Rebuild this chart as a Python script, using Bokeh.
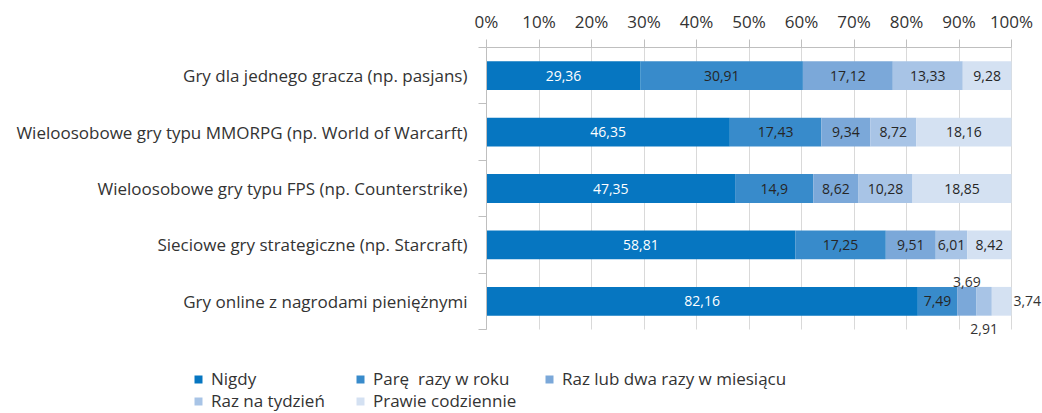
import numpy as np
from bokeh.plotting import figure
from bokeh.models import (Range1d, FixedTicker, ColumnDataSource, LabelSet,
                          Legend, LegendItem, Grid, LinearAxis)
from bokeh.core.properties import value
from bokeh.embed import file_html
from bokeh.resources import INLINE

# ---------------- data ----------------
categories = [
    "Gry dla jednego gracza (np. pasjans)",
    "Wieloosobowe gry typu MMORPG (np. World of Warcarft)",
    "Wieloosobowe gry typu FPS (np. Counterstrike)",
    "Sieciowe gry strategiczne (np. Starcraft)",
    "Gry online z nagrodami pieniężnymi",
]
series_names = ["Nigdy", "Parę  razy w roku", "Raz lub dwa razy w miesiącu",
                "Raz na tydzień", "Prawie codziennie"]
nigdy = [29.36, 46.35, 47.35, 58.81, 82.16]
pare_razy_w_roku = [30.91, 17.43, 14.9, 17.25, 7.49]
raz_lub_dwa_w_miesiacu = [17.12, 9.34, 8.62, 9.51, 3.69]
raz_na_tydzien = [13.33, 8.72, 10.28, 6.01, 2.91]
prawie_codziennie = [9.28, 18.16, 18.85, 8.42, 3.74]
x_ticks = [0, 10, 20, 30, 40, 50, 60, 70, 80, 90, 100]
x_tick_labels = ["0%", "10%", "20%", "30%", "40%", "50%", "60%", "70%", "80%", "90%", "100%"]

# ---------------- style ----------------
colors = ["#0676C1", "#388BCB", "#7BA8D9", "#A8C4E6", "#D4E1F2"]
label_colors = ["#FFFFFF", "#262626", "#262626", "#262626", "#262626"]
FONT = "Open Sans"
TXT = "#333333"
GRID = "#D9D9D9"
AXIS = "#BFBFBF"
# labels placed outside of small segments: (row, series) -> placement
outside = {(4, 2): "above", (4, 3): "below", (4, 4): "right"}

series = [nigdy, pare_razy_w_roku, raz_lub_dwa_w_miesiacu, raz_na_tydzien, prawie_codziennie]
n = len(categories)
ypos = np.arange(n) + 0.5

# The whole canvas is the frame; axes are drawn at fixed data locations.
W, H = 1042, 413
X0, X100, YTOP, YBOT = 486, 1011, 47, 329       # plot-area corners in pixels
ppx = (X100 - X0) / 100.0
ppy = (YBOT - YTOP) / n
x_range = Range1d(-X0 / ppx, 100 + (W - X100) / ppx)
y_range = Range1d(n + (H - YBOT) / ppy, -YTOP / ppy)   # reversed: first category on top

p = figure(width=W, height=H, output_backend="svg", toolbar_location=None,
           x_range=x_range, y_range=y_range,
           x_axis_location=None, y_axis_location=None,
           min_border=0, min_border_left=0, min_border_right=0,
           min_border_top=0, min_border_bottom=0)
# drop the default grids (they belong to axes that are not shown)
p.center = [r for r in p.center if not isinstance(r, Grid)]
p.outline_line_color = None
p.background_fill_color = "white"
p.border_fill_color = "white"

# top axis at the top of the plot area
xa = LinearAxis(fixed_location=0, bounds=(0, 100),
                ticker=FixedTicker(ticks=x_ticks, minor_ticks=[]))
xa.major_label_overrides = {t: l for t, l in zip(x_ticks, x_tick_labels)}
xa.major_tick_out = 8
xa.major_tick_in = 0
xa.minor_tick_out = 0
xa.minor_tick_in = 0
xa.axis_line_color = AXIS
xa.major_tick_line_color = AXIS
xa.major_label_standoff = 7
xa.major_label_text_font = FONT
xa.major_label_text_font_size = "17px"
xa.major_label_text_color = TXT
p.add_layout(xa, "above")

# left axis: labels at band centres, ticks at band boundaries
ya = LinearAxis(fixed_location=0, bounds=(0, n),
                ticker=FixedTicker(ticks=list(ypos), minor_ticks=list(np.arange(n + 1))))
ya.major_label_overrides = {float(y): c for y, c in zip(ypos, categories)}
ya.major_tick_out = 0
ya.major_tick_in = 0
ya.minor_tick_out = 8
ya.minor_tick_in = 0
ya.minor_tick_line_color = AXIS
ya.axis_line_color = AXIS
ya.major_label_standoff = 11
ya.major_label_text_font = FONT
ya.major_label_text_font_size = "17px"
ya.major_label_text_color = TXT
p.add_layout(ya, "left")

# vertical gridlines inside the plot area only
if "cross_bounds" in Grid.properties():
    p.add_layout(Grid(dimension=0, ticker=FixedTicker(ticks=x_ticks),
                      grid_line_color=GRID, cross_bounds=(0, n)))
else:
    p.segment(x0=x_ticks, x1=x_ticks, y0=[0] * len(x_ticks), y1=[n] * len(x_ticks),
              line_color=GRID, level="underlay")

def fmt(v):
    return f"{v:g}".replace(".", ",")

left = np.zeros(n)
renderers = []
for si, (vals, name) in enumerate(zip(series, series_names)):
    vals = np.array(vals, dtype=float)
    right = left + vals
    src = ColumnDataSource(dict(y=ypos, left=left.copy(), right=right.copy()))
    r = p.hbar(y="y", left="left", right="right", height=0.51, source=src,
               fill_color=colors[si], line_color=None)
    renderers.append(r)

    inside = dict(x=[], y=[], t=[])
    above = dict(x=[], y=[], t=[])
    below = dict(x=[], y=[], t=[])
    rgt = dict(x=[], y=[], t=[])
    for ri in range(n):
        place = outside.get((ri, si))
        xc = (left[ri] + right[ri]) / 2
        if place == "above":
            d, xx = above, xc
        elif place == "below":
            d, xx = below, xc
        elif place == "right":
            d, xx = rgt, right[ri]
        else:
            d, xx = inside, xc
        d["x"].append(xx); d["y"].append(ypos[ri]); d["t"].append(fmt(vals[ri]))

    common = dict(text_font=value(FONT), text_font_size="14px", text_baseline="middle",
                  level="overlay")
    p.add_layout(LabelSet(x="x", y="y", text="t", source=ColumnDataSource(inside),
                          text_align="center", text_color=label_colors[si], **common))
    p.add_layout(LabelSet(x="x", y="y", text="t", source=ColumnDataSource(above),
                          text_align="center", text_color=TXT, y_offset=19, **common))
    p.add_layout(LabelSet(x="x", y="y", text="t", source=ColumnDataSource(below),
                          text_align="center", text_color=TXT, y_offset=-28, **common))
    p.add_layout(LabelSet(x="x", y="y", text="t", source=ColumnDataSource(rgt),
                          text_align="left", text_color=TXT, x_offset=2, **common))
    left = right

# legend: 3 items on the first row, 2 on the second (positions in screen px)
legend_pos = [(193, 23), (355, 23), (544, 23), (193, 1), (355, 1)]
for r, name, loc in zip(renderers, series_names, legend_pos):
    leg = Legend(items=[LegendItem(label=name, renderers=[r])], location=loc,
                 orientation="horizontal", padding=0, margin=0, spacing=0,
                 border_line_color=None, background_fill_alpha=0,
                 glyph_width=10, glyph_height=10, label_standoff=8,
                 label_text_font=FONT, label_text_font_size="17px",
                 label_text_color=TXT, label_height=18)
    p.add_layout(leg, "center")

open("out.html", "w").write(file_html(p, INLINE))
